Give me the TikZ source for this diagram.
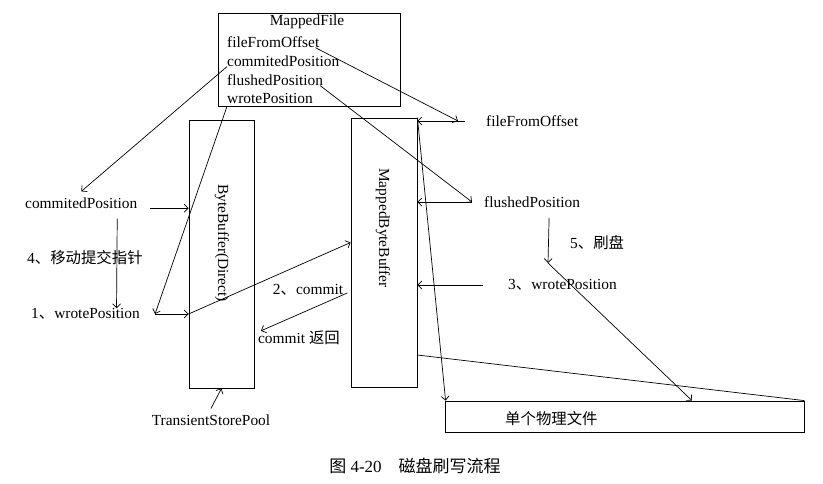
\documentclass[tikz,border=0pt]{standalone}
\usepackage{fontspec}
\setmainfont{Liberation Serif}
\newfontfamily\cjk{Noto Sans CJK SC}
\usetikzlibrary{arrows.meta}

\begin{document}
\begin{tikzpicture}[x=1pt,y=-1pt,
        txt/.style={inner sep=0pt,font=\fontsize{15.4}{18}\selectfont},
        box/.style={draw,line width=0.8pt,inner sep=0pt},
        arr/.style={-{Straight Barb[length=4pt,width=8pt]},line width=0.7pt}]
        \useasboundingbox (0,0) rectangle (823,483);
        % boxes
        \node[box,minimum width=182pt,minimum height=93pt] (mf) at (309,59.5) {};
        \node[box,minimum width=65pt,minimum height=268pt] (bbd) at (221.5,254) {};
        \node[box,minimum width=66pt,minimum height=269pt] (mbb) at (384,252.5) {};
        \node[box,minimum width=359pt,minimum height=31pt] (file) at (624.5,416.5) {};
        % texts
        \node[txt] (mft) at (307,22) {MappedFile};
        \node[txt,anchor=west] (mfffo) at (227,42) {fileFromOffset};
        \node[txt,anchor=west] (mfcp) at (227,61) {commitedPosition};
        \node[txt,anchor=west] (mffp) at (227,80) {flushedPosition};
        \node[txt,anchor=west] (mfwp) at (227,98) {wrotePosition};
        \node[txt,rotate=-90] (bbdt) at (222,243) {ByteBuffer(Direct)};
        \node[txt,rotate=-90] (mbbt) at (383,228) {MappedByteBuffer};
        \node[txt,anchor=west] (lcp) at (25,203) {commitedPosition};
        \node[txt,anchor=west] (move) at (27,258) {4{\cjk 、移动提交指针}};
        \node[txt,anchor=west] (lwp) at (31,314) {1{\cjk 、}wrotePosition};
        \node[txt] (cmt) at (308,290) {2{\cjk 、}commit};
        \node[txt] (cmtr) at (299,338) {commit {\cjk 返回}};
        \node[txt] (tsp) at (211,420) {TransientStorePool};
        \node[txt,anchor=west] (rffo) at (486,121) {fileFromOffset};
        \node[txt,anchor=west] (rfp) at (484,202) {flushedPosition};
        \node[txt,anchor=west] (flushtxt) at (570,243) {5{\cjk 、刷盘}};
        \node[txt,anchor=west] (rwp) at (508,285) {3{\cjk 、}wrotePosition};
        \node[txt,anchor=west] (filet) at (505,419) {\cjk 单个物理文件};
        \node[txt,font=\fontsize{17}{20}\selectfont] (cap) at (415,466) {{\cjk 图} 4-20\quad{\cjk 磁盘刷写流程}};
        \coordinate (flush) at (548,263);
        % left side
        \draw[arr] (mfcp.south west) -- ([yshift=6pt]lcp.north);
        \draw[arr] ([xshift=13pt]lcp.base east) -- (bbd.west |- lcp.base);
        \draw[arr] ([xshift=36pt,yshift=-10pt]lcp.south) -- ([xshift=31pt]lwp.north);
        \draw[arr] (mfwp.west |- mf.south) -- ([xshift=15pt]lwp.east);
        \draw[arr] ([xshift=15pt]lwp.east) -- (bbd.west |- lwp.east);
        \draw[arr] (bbd.west |- lwp.east) -- ([yshift=10pt]mbb.west);
        \draw[arr] ([xshift=4pt,yshift=-3pt]cmt.east) -- ([xshift=3pt]cmtr.north west);
        \draw[arr] ([yshift=6pt]tsp.north) -- (bbd.south);
        % right side
        \draw[arr] ([xshift=-4pt]mfffo.south east) -- ([xshift=-28pt]rffo.west);
        \draw[arr] ([xshift=-21pt]rffo.west) -- (mbb.east |- rffo.west);
        \draw[arr] ([xshift=-3pt]mffp.south east) -- ([xshift=-12pt]rfp.west);
        \draw[arr] ([xshift=-12pt]rfp.west) -- (mbb.east |- rfp.west);
        \draw[arr] ([xshift=17pt,yshift=-10pt]rfp.south) -- (flush);
        \draw[arr] (flush) -- ([xshift=67.5pt]file.north);
        \draw[arr] ([xshift=-25pt]rwp.west) -- (mbb.east |- rwp.west);
        \draw[arr] (mbb.north east) -- ([xshift=1pt]file.north west);
        \draw[line width=0.7pt] ([yshift=-102.5pt]mbb.east) -- (file.north east);
    \end{tikzpicture}
\end{document}
